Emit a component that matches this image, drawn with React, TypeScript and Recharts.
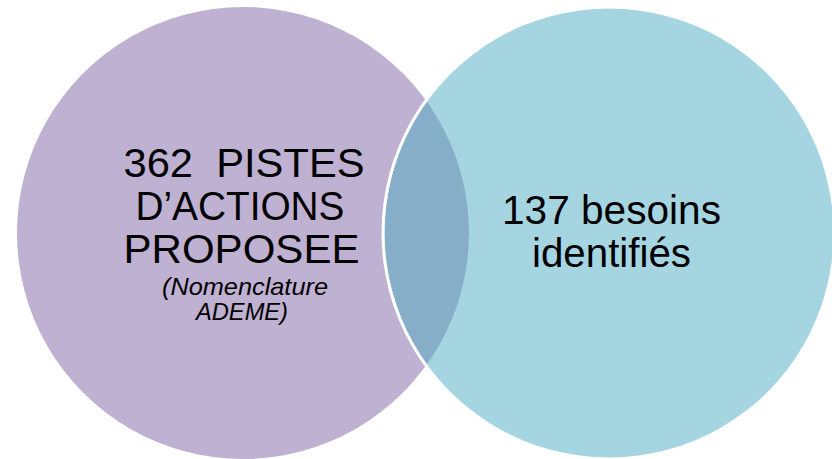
import { PieChart, Pie, Cell } from 'recharts';

// two sets of the diagram
const setNames = ['Pistes d\u2019actions', 'Besoins'];
const setCounts = [362, 137];
const setColors = ['#bfb1d1', '#a6d5e2'];
const overlapColor = '#86aec8';

// labels
const leftLines = ['362  PISTES', 'D\u2019ACTIONS', 'PROPOSEE'];
const leftNote = ['(Nomenclature', 'ADEME)'];
const rightLines = ['137 besoins', 'identifiés'];

const W = 832;
const H = 459;
const R = 226;
const CY = 233;
const LEFT_CX = 243;
const RIGHT_CX = 609;

const leftData = [{ name: setNames[0], value: setCounts[0] }];
const rightData = [{ name: setNames[1], value: setCounts[1] }];

const VennText = () => (
  <svg
    width={W}
    height={H}
    style={{ position: 'absolute', left: 0, top: 0, pointerEvents: 'none' }}
    fontFamily="'Liberation Sans', Arial, sans-serif"
    fill="#000"
  >
    <defs>
      <clipPath id="venn-clip">
        <circle cx={RIGHT_CX} cy={CY} r={R - 1.5} />
      </clipPath>
    </defs>
    {leftLines.map((t, i) => (
      <text
        key={t}
        x={[244, 240, 241.5][i]}
        y={177 + i * 43}
        fontSize={41}
        textAnchor="middle"
        textLength={[241, 209, 236][i]}
        lengthAdjust="spacingAndGlyphs"
        style={{ whiteSpace: 'pre' }}
      >
        {t}
      </text>
    ))}
    {leftNote.map((t, i) => (
      <text
        key={t}
        x={[245, 242][i]}
        y={295 + i * 25}
        fontSize={24}
        fontStyle="italic"
        textAnchor="middle"
        textLength={[166, 92][i]}
        lengthAdjust="spacingAndGlyphs"
      >
        {t}
      </text>
    ))}
    {rightLines.map((t, i) => (
      <text
        key={t}
        x={611.5}
        y={224 + i * 43}
        fontSize={41}
        textAnchor="middle"
        textLength={[219, 159][i]}
        lengthAdjust="spacingAndGlyphs"
      >
        {t}
      </text>
    ))}
  </svg>
);

export default function App() {
  return (
    <div style={{ position: 'absolute', left: 0, top: 0, width: W, height: H, background: '#fff' }}>
      <style>{`.venn-overlap { clip-path: url(#venn-clip); }`}</style>
      <PieChart width={W} height={H} margin={{ top: 0, right: 0, bottom: 0, left: 0 }}>
        <Pie
          data={leftData}
          dataKey="value"
          cx={LEFT_CX}
          cy={CY}
          outerRadius={R}
          startAngle={90}
          endAngle={-270}
          stroke="none"
          isAnimationActive={false}
        >
          <Cell fill={setColors[0]} />
        </Pie>
        <Pie
          data={rightData}
          dataKey="value"
          cx={RIGHT_CX}
          cy={CY}
          outerRadius={R}
          startAngle={90}
          endAngle={-270}
          stroke="none"
          isAnimationActive={false}
        >
          <Cell fill={setColors[1]} />
        </Pie>
        <Pie
          className="venn-overlap"
          data={leftData}
          dataKey="value"
          cx={LEFT_CX}
          cy={CY}
          outerRadius={R}
          startAngle={90}
          endAngle={-270}
          stroke="none"
          isAnimationActive={false}
        >
          <Cell fill={overlapColor} />
        </Pie>
        {/* white outline of the right set */}
        <Pie
          data={rightData}
          dataKey="value"
          cx={RIGHT_CX}
          cy={CY}
          innerRadius={R - 1.5}
          outerRadius={R + 1.5}
          startAngle={90}
          endAngle={-270}
          stroke="none"
          isAnimationActive={false}
        >
          <Cell fill="#ffffff" />
        </Pie>
      </PieChart>
      <VennText />
    </div>
  );
}
